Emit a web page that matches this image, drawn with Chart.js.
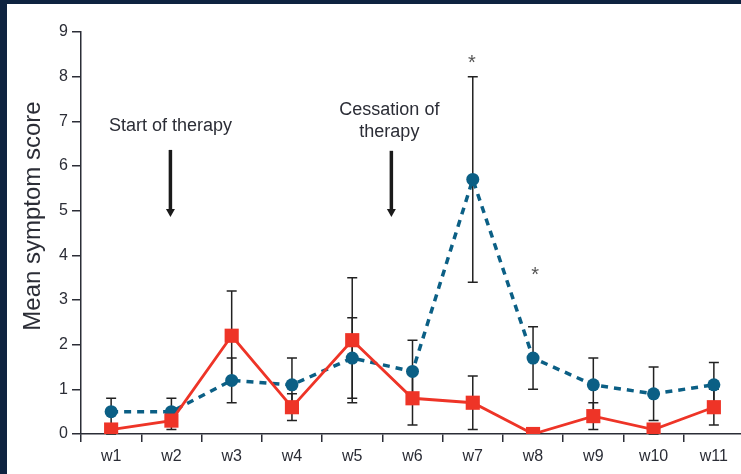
<!DOCTYPE html>
<html>
<head>
<meta charset="utf-8">
<script src="https://cdn.jsdelivr.net/npm/chart.js@4.4.1/dist/chart.umd.min.js"></script>
<style>
  html, body { margin: 0; padding: 0; }
  body { width: 741px; height: 474px; background: #0e2340; overflow: hidden; position: relative; }
  #panel { position: absolute; left: 7px; top: 4px; width: 760px; height: 470px; background: #fff; }
</style>
</head>
<body>
<div id="panel"><canvas id="chart" width="760" height="470"></canvas></div>
<script>
// weeks and mean scores
const weeks = ['w1', 'w2', 'w3', 'w4', 'w5', 'w6', 'w7', 'w8', 'w9', 'w10', 'w11'];
const redScores = [0.1, 0.3, 2.2, 0.6, 2.1, 0.8, 0.7, 0.0, 0.4, 0.1, 0.6];
const redErrors = [0.1, 0.2, 1.0, 0.3, 1.4, 0.6, 0.6, 0.0, 0.3, 0.1, 0.4];
const blueScores = [0.5, 0.5, 1.2, 1.1, 1.7, 1.4, 5.7, 1.7, 1.1, 0.9, 1.1];
const blueErrors = [0.3, 0.3, 0.5, 0.6, 0.9, 0.7, 2.3, 0.7, 0.6, 0.6, 0.5];
const yTicks = [0, 1, 2, 3, 4, 5, 6, 7, 8, 9];

const RED = '#ee3427';
const BLUE = '#0b5f85';
const INK = '#2b2d36';
const FONT = "'Liberation Sans', Arial, sans-serif";

// error bars, drawn under the markers
const errorBars = {
  id: 'errorBars',
  beforeDatasetsDraw(chart) {
    const { ctx, scales: { x, y } } = chart;
    ctx.save();
    ctx.strokeStyle = '#222';
    ctx.lineWidth = 1.5;
    const draw = (vals, errs) => {
      vals.forEach((v, i) => {
        if (!errs[i]) return;
        const px = x.getPixelForValue(i);
        const top = y.getPixelForValue(v + errs[i]);
        const bot = y.getPixelForValue(Math.max(0, v - errs[i]));
        ctx.beginPath();
        ctx.moveTo(px, top); ctx.lineTo(px, bot);
        ctx.moveTo(px - 5, top); ctx.lineTo(px + 5, top);
        ctx.moveTo(px - 5, bot); ctx.lineTo(px + 5, bot);
        ctx.stroke();
      });
    };
    draw(blueScores, blueErrors);
    draw(redScores, redErrors);
    ctx.restore();
  }
};

// therapy arrows, asterisks and the y axis title
const notes = {
  id: 'notes',
  afterDraw(chart) {
    const { ctx, scales: { x, y } } = chart;
    ctx.save();
    ctx.fillStyle = INK;
    ctx.textAlign = 'center';
    ctx.textBaseline = 'middle';

    const arrow = (px, fromV, toV) => {
      const y0 = y.getPixelForValue(fromV);
      const y1 = y.getPixelForValue(toV);
      ctx.strokeStyle = '#1a1a1a';
      ctx.fillStyle = '#1a1a1a';
      ctx.lineWidth = 3.5;
      ctx.beginPath();
      ctx.moveTo(px, y0); ctx.lineTo(px, y1 - 7);
      ctx.stroke();
      ctx.beginPath();
      ctx.moveTo(px - 4.5, y1 - 8); ctx.lineTo(px + 4.5, y1 - 8); ctx.lineTo(px, y1);
      ctx.closePath();
      ctx.fill();
    };

    ctx.font = '18px ' + FONT;
    const startX = x.getPixelForValue(1);
    ctx.fillText('Start of therapy', startX - 1, y.getPixelForValue(6.9));
    arrow(startX - 1, 6.36, 4.86);

    const stopX = (x.getPixelForValue(4) + x.getPixelForValue(5)) / 2 + 9;
    ctx.fillStyle = INK;
    ctx.fillText('Cessation of', stopX - 2, y.getPixelForValue(7.25));
    ctx.fillText('therapy', stopX - 2, y.getPixelForValue(6.76));
    arrow(stopX, 6.34, 4.86);

    ctx.fillStyle = '#555';
    ctx.font = '20px ' + FONT;
    ctx.fillText('*', x.getPixelForValue(6) - 1, y.getPixelForValue(blueScores[6] + blueErrors[6] + 0.3));
    ctx.fillText('*', x.getPixelForValue(7) + 2, y.getPixelForValue(blueScores[7] + blueErrors[7] + 1.15));

    ctx.fillStyle = INK;
    ctx.font = '24px ' + FONT;
    ctx.translate(26, 212);
    ctx.rotate(-Math.PI / 2);
    ctx.fillText('Mean symptom score', 0, 0);
    ctx.restore();
  }
};

new Chart(document.getElementById('chart'), {
  type: 'line',
  data: {
    labels: weeks,
    datasets: [
      {
        label: 'Red',
        data: redScores,
        borderColor: RED,
        backgroundColor: RED,
        borderWidth: 2.8,
        pointStyle: 'rect',
        pointRadius: 10,
        pointBorderWidth: 0,
        tension: 0
      },
      {
        label: 'Blue',
        data: blueScores,
        borderColor: BLUE,
        backgroundColor: BLUE,
        borderWidth: 3.5,
        borderDash: [7, 6],
        pointStyle: 'circle',
        pointRadius: 6.5,
        pointBorderWidth: 0,
        tension: 0
      }
    ]
  },
  options: {
    responsive: false,
    animation: false,
    layout: { padding: { top: 28, right: 23, bottom: 0, left: 0 } },
    plugins: { legend: { display: false }, tooltip: { enabled: false } },
    scales: {
      x: {
        offset: true,
        afterFit(scale) { scale.height = 40; },
        border: { display: true, color: INK, width: 1.5 },
        grid: { offset: true, drawOnChartArea: false, drawTicks: true, tickLength: 8, color: INK, lineWidth: 1.5 },
        ticks: { color: INK, padding: 5, font: { size: 16, family: FONT } }
      },
      y: {
        min: 0,
        max: 9,
        afterFit(scale) { scale.width = 74; },
        afterBuildTicks(scale) { scale.ticks = yTicks.map(v => ({ value: v })); },
        border: { display: true, color: INK, width: 1.5 },
        grid: { drawOnChartArea: false, drawTicks: true, tickLength: 9, color: INK, lineWidth: 1.5 },
        ticks: { color: INK, padding: 4, font: { size: 16, family: FONT } }
      }
    }
  },
  plugins: [errorBars, notes]
});
</script>
</body>
</html>
